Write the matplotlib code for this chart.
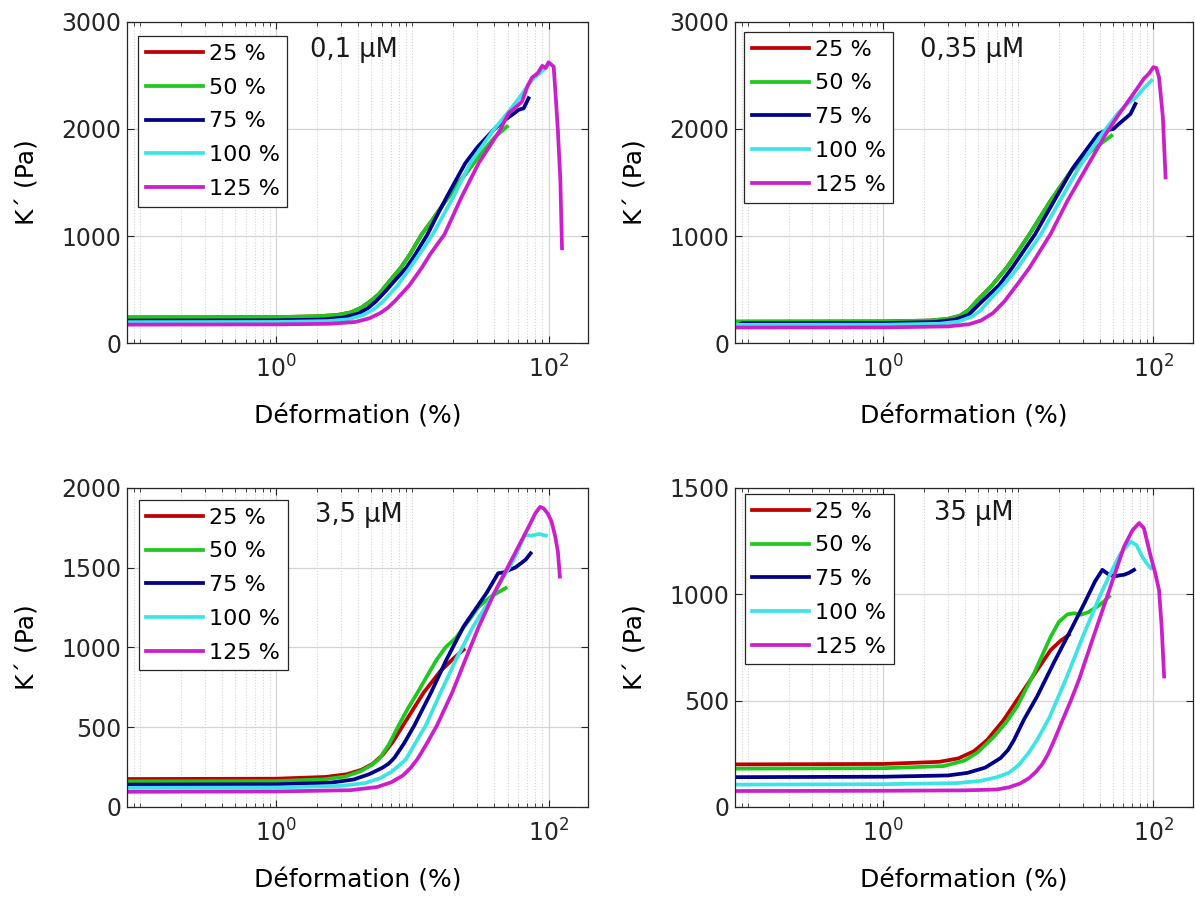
import matplotlib.pyplot as plt
from matplotlib.ticker import FixedLocator, LogLocator, NullFormatter, MultipleLocator

plt.rcParams['font.family'] = 'DejaVu Sans'
plt.rcParams['mathtext.fontset'] = 'dejavusans'

labels = ['25 %', '50 %', '75 %', '100 %', '125 %']
colors = ['#c00000', '#1fc81f', '#00008c', '#3ee4e4', '#cc1fcc']
titles = ['0,1 µM', '0,35 µM', '3,5 µM', '35 µM']
y_max = [3000, 3000, 2000, 1500]
y_step = [1000, 1000, 500, 500]

# -------- 0,1 µM --------
strain_a = [
    [0.08, 1, 2, 2.8, 3.5, 4.2, 4.9, 5.7, 6.6, 8.2, 9.6, 11.7, 14, 16.9, 22, 30],
    [0.08, 1, 2, 2.8, 3.5, 4.2, 4.9, 5.7, 6.6, 8.2, 9.6, 11.7, 14, 16.9, 22, 30, 40, 49.4],
    [0.08, 1, 2.2, 3.1, 4, 4.7, 5.4, 6.3, 7.5, 9.0, 10.4, 12.9, 15, 17.9, 24.4, 30, 39.4, 45, 50.8, 55, 60,
     65.6, 71.3],
    [0.08, 1, 2.4, 3.4, 4.3, 5.2, 6.1, 7.8, 9.6, 11.4, 14.1, 20, 26.5, 39.4, 50, 60, 75.5, 86, 97.3],
    [0.08, 1, 2.5, 3.8, 4.8, 5.8, 6.6, 7.4, 9.5, 11.7, 13.5, 17.2, 23, 30.6, 44.1, 50.8, 57, 63.7, 70, 75.5,
     83, 90, 95, 100, 105, 109, 112, 117, 122, 125.5],
]
kprime_a = [
    [240, 242, 250, 262, 285, 330, 390, 460, 560, 703, 830, 1016, 1150, 1300, 1500, 1730],
    [240, 242, 250, 262, 285, 330, 390, 460, 560, 703, 830, 1016, 1150, 1300, 1500, 1730, 1920, 2022],
    [210, 212, 220, 238, 275, 325, 390, 480, 590, 703, 820, 1016, 1180, 1367, 1679, 1830, 1991, 2060, 2109,
     2140, 2178, 2193, 2287],
    [195, 197, 205, 222, 260, 315, 390, 540, 703, 840, 1016, 1367, 1679, 1991, 2150, 2280, 2458, 2520, 2582],
    [172, 174, 180, 197, 230, 280, 330, 390, 540, 703, 830, 1016, 1367, 1679, 1991, 2147, 2200, 2255, 2400,
     2480, 2520, 2590, 2570, 2623, 2600, 2582, 2365, 1991, 1523, 885],
]

# -------- 0,35 µM --------
strain_b = [
    [0.08, 1, 2.2, 3.0, 3.7, 4.3, 4.9, 6.4, 8.2, 10, 12.1, 17.3, 25, 30],
    [0.08, 1, 2.2, 3.0, 3.7, 4.3, 4.9, 6.4, 8.2, 10, 12.1, 17.3, 25, 35, 48.9],
    [0.08, 0.09, 1, 2.4, 3.4, 4.3, 5.4, 7.2, 9.0, 13.3, 18.4, 25.5, 38.9, 45, 50.5, 57, 63.4, 67.6, 73.6],
    [0.08, 1, 2.6, 3.6, 4.6, 5.3, 6.0, 8.0, 9.9, 14.7, 20.3, 28.1, 41.6, 55, 65, 74.6, 85, 96.8],
    [0.08, 1, 3, 4.3, 5.3, 6.5, 7.9, 10, 12.1, 17.3, 23.1, 32, 44.4, 55, 65.5, 75, 85, 93, 100, 105, 110,
     117.5, 123],
]
kprime_b = [
    [200, 202, 210, 225, 255, 310, 390, 540, 703, 860, 1016, 1328, 1620, 1700],
    [200, 202, 210, 225, 255, 310, 390, 540, 703, 860, 1016, 1328, 1620, 1800, 1937],
    [150, 185, 186, 196, 218, 265, 390, 540, 703, 1016, 1328, 1640, 1953, 1990, 2000, 2060, 2109, 2140, 2234],
    [170, 171, 180, 200, 250, 310, 390, 560, 703, 1016, 1328, 1640, 1953, 2150, 2240, 2297, 2380, 2453],
    [145, 146, 155, 175, 210, 280, 390, 560, 703, 1016, 1328, 1640, 1953, 2130, 2265, 2370, 2470, 2520, 2578,
     2570, 2484, 2109, 1547],
]

# -------- 3,5 µM --------
strain_c = [
    [0.08, 1, 2.3, 3.3, 4.2, 5.1, 6.1, 7.2, 8.5, 12.1, 16, 20, 23.8],
    [0.08, 1, 2.2, 3.2, 4.2, 5.0, 5.7, 6.7, 7.9, 9.3, 10.9, 13, 15.1, 17.5, 20.9, 25, 30.8, 38, 48.4],
    [0.08, 1, 2.5, 3.7, 4.8, 6, 6.7, 7.4, 8.7, 10.3, 13.7, 17.8, 23.8, 35, 42.6, 47, 51.6, 57, 62.8, 68, 73.8],
    [0.08, 1, 3, 4.5, 5.8, 7, 8, 9, 10.5, 12.5, 16.1, 20.9, 28, 39.9, 55.2, 62, 67, 75, 85, 95.5],
    [0.08, 1, 3.5, 5.5, 7, 8.5, 9.7, 10.9, 12.8, 15.1, 19.6, 24.5, 30.8, 39.9, 53.4, 71.4, 80, 86.7, 92, 98.6,
     105, 112, 117, 121],
]
kprime_c = [
    [175, 177, 188, 205, 232, 270, 330, 410, 509, 717, 850, 930, 986],
    [160, 162, 172, 190, 225, 262, 301, 390, 509, 620, 717, 830, 924, 1000, 1060, 1150, 1256, 1320, 1371],
    [140, 142, 152, 172, 205, 245, 272, 310, 400, 509, 717, 924, 1132, 1340, 1464, 1470, 1485, 1500, 1527,
     1550, 1589],
    [120, 122, 132, 150, 180, 220, 260, 301, 400, 509, 717, 924, 1132, 1340, 1547, 1640, 1703, 1700, 1710, 1700],
    [95, 97, 105, 125, 155, 197, 245, 301, 400, 509, 717, 924, 1132, 1340, 1547, 1755, 1840, 1880, 1870, 1838,
     1790, 1693, 1600, 1443],
]

# -------- 35 µM --------
strain_d = [
    [0.08, 1, 2.6, 3.6, 4.7, 5.9, 7.8, 12.3, 17.4, 20.5, 23.7],
    [0.08, 1, 2.8, 4.0, 5.0, 6.6, 8.2, 9.8, 13.1, 17.4, 20, 23.1, 26, 29, 33, 38.5, 43, 47],
    [0.08, 1, 3.0, 4.2, 5.7, 7.4, 8.4, 9.3, 11, 13.8, 18.4, 24.4, 31, 37, 41.9, 46, 51.2, 56, 60.7, 66, 71.9],
    [0.08, 1, 3.5, 5.2, 7, 8.5, 10, 11.8, 13.8, 17, 22.4, 30, 40.7, 48.3, 57, 67.9, 75, 82, 88, 95.5],
    [0.08, 1, 4, 6.9, 8.5, 10.3, 12, 13.5, 15, 16.5, 18.5, 21, 24.5, 28.1, 36, 46.1, 60.7, 70, 78.4, 85, 95.5,
     103, 110, 115, 120],
]
kprime_d = [
    [200, 202, 212, 228, 262, 315, 409, 597, 738, 780, 809],
    [180, 182, 192, 218, 256, 330, 400, 472, 629, 801, 870, 905, 910, 903, 915, 942, 965, 989],
    [140, 142, 148, 160, 185, 230, 268, 315, 410, 520, 680, 830, 960, 1060, 1114, 1095, 1083, 1088, 1091,
     1100, 1114],
    [105, 107, 112, 122, 140, 160, 195, 250, 315, 420, 597, 800, 1000, 1099, 1190, 1247, 1230, 1180, 1150, 1122],
    [75, 76, 78, 82, 92, 110, 135, 165, 200, 245, 315, 400, 500, 597, 800, 1000, 1224, 1300, 1334, 1310, 1177,
     1100, 1020, 850, 613],
]

strains = [strain_a, strain_b, strain_c, strain_d]
kprimes = [kprime_a, kprime_b, kprime_c, kprime_d]

# axes boxes in figure fractions
boxes = [[0.1063, 0.6218, 0.3858, 0.354],
         [0.6150, 0.6218, 0.3830, 0.354],
         [0.1063, 0.1103, 0.3858, 0.352],
         [0.6150, 0.1103, 0.3830, 0.352]]
legend_anchor = [(0.024, 0.956), (0.020, 0.969), (0.025, 0.962), (0.021, 0.981)]
text_pos = [(0.397, 0.913), (0.405, 0.913), (0.408, 0.915), (0.434, 0.922)]

fig = plt.figure(figsize=(11.95, 9.07), dpi=100)

for i in range(4):
    ax = fig.add_axes(boxes[i])
    for j in range(5):
        ax.plot(strains[i][j], kprimes[i][j], color=colors[j], lw=2.7, label=labels[j])

    ax.set_xscale('log')
    ax.set_xlim(0.08, 195)
    ax.set_ylim(0, y_max[i])
    ax.xaxis.set_major_locator(FixedLocator([1, 100]))
    ax.xaxis.set_minor_locator(LogLocator(base=10, subs=range(1, 10), numticks=30))
    ax.xaxis.set_minor_formatter(NullFormatter())
    ax.yaxis.set_major_locator(MultipleLocator(y_step[i]))

    # matlab-like box and grid
    ax.grid(True, which='major', color='#d4d4d4', lw=0.9)
    ax.grid(True, which='minor', axis='x', color='#d4d4d4', lw=0.8, ls=':')
    ax.set_axisbelow(True)
    for sp in ax.spines.values():
        sp.set_color('#262626')
        sp.set_linewidth(0.9)
    ax.tick_params(which='both', direction='in', top=True, right=True, colors='#262626')
    ax.tick_params(which='major', length=5, labelsize=17)
    ax.tick_params(which='minor', length=3)
    ax.tick_params(axis='x', which='major', pad=9)
    ax.tick_params(axis='y', which='major', pad=4)

    ax.set_xlabel('Déformation (%)', fontsize=18, labelpad=16)
    ax.set_ylabel('K´ (Pa)', fontsize=18, labelpad=16)

    ax.text(text_pos[i][0], text_pos[i][1], titles[i], transform=ax.transAxes,
            fontsize=18.5, va='center', ha='left', color='#1a1a1a')

    leg = ax.legend(loc='upper left', bbox_to_anchor=legend_anchor[i], borderaxespad=0,
                    fontsize=16, handlelength=2.57, handletextpad=0.25, labelspacing=0.62,
                    borderpad=0.35, fancybox=False, framealpha=1, edgecolor='#262626')
    leg.get_frame().set_linewidth(0.9)

plt.savefig('out.png', dpi=100, facecolor='white')
